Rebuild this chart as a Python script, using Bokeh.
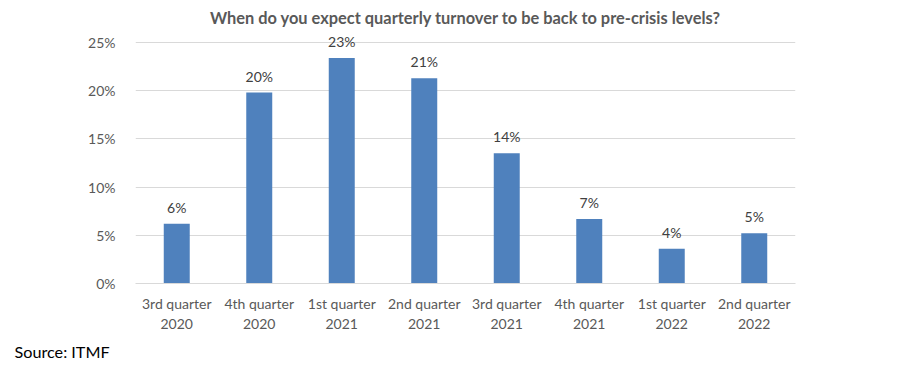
from bokeh.plotting import figure
from bokeh.models import ColumnDataSource, FixedTicker, Range1d, Title, LabelSet, CustomJSTickFormatter
from bokeh.core.properties import value
from bokeh.embed import file_html
from bokeh.resources import INLINE

categories = ["3rd quarter\n2020", "4th quarter\n2020", "1st quarter\n2021", "2nd quarter\n2021",
              "3rd quarter\n2021", "4th quarter\n2021", "1st quarter\n2022", "2nd quarter\n2022"]
values = [0.062, 0.198, 0.234, 0.213, 0.135, 0.067, 0.036, 0.052]
value_labels = ["6%", "20%", "23%", "21%", "14%", "7%", "4%", "5%"]
y_ticks = [0, 0.05, 0.10, 0.15, 0.20, 0.25]

FONT = "Lato"
TXT = "#595959"

src = ColumnDataSource(dict(cat=categories, val=values, lab=value_labels))

p = figure(x_range=categories, y_range=Range1d(0, 0.2614), width=898, height=386,
           output_backend="svg", toolbar_location=None,
           min_border_left=135, min_border_right=103, min_border_top=31, min_border_bottom=103)
p.title.text = "When do you expect quarterly turnover to be back to pre-crisis levels?"
p.title.align = "center"
p.title.text_font = FONT
p.title.text_font_size = "16.4px"
p.title.text_font_style = "bold"
p.title.text_color = TXT

p.vbar(x="cat", top="val", width=0.315, source=src, fill_color="#4F81BD", line_color=None)

p.add_layout(LabelSet(x="cat", y="val", text="lab", source=src, y_offset=8,
                      text_align="center", text_baseline="bottom",
                      text_font=value(FONT), text_font_size=value("14px"), text_color=value("#404040")))

p.yaxis.ticker = FixedTicker(ticks=y_ticks)
p.yaxis.formatter = CustomJSTickFormatter(code="return Math.round(tick*100) + '%';")
for ax in (p.xaxis, p.yaxis):
    ax.axis_line_color = None
    ax.major_tick_line_color = None
    ax.minor_tick_line_color = None
    ax.major_label_text_font = FONT
    ax.major_label_text_font_size = "14px"
    ax.major_label_text_color = TXT
p.yaxis.major_label_standoff = 14
p.xaxis.major_label_standoff = 5
p.xaxis.axis_line_color = "#D9D9D9"
p.xgrid.grid_line_color = None
p.ygrid.grid_line_color = "#D9D9D9"
p.ygrid.ticker = FixedTicker(ticks=y_ticks)
p.outline_line_color = None

p.add_layout(Title(text="Source: ITMF", align="left", offset=-121, standoff=10,
                   text_font=FONT, text_font_size="16.2px", text_color="#000000",
                   text_font_style="normal"), "below")

open("out.html", "w").write(file_html(p, INLINE))
